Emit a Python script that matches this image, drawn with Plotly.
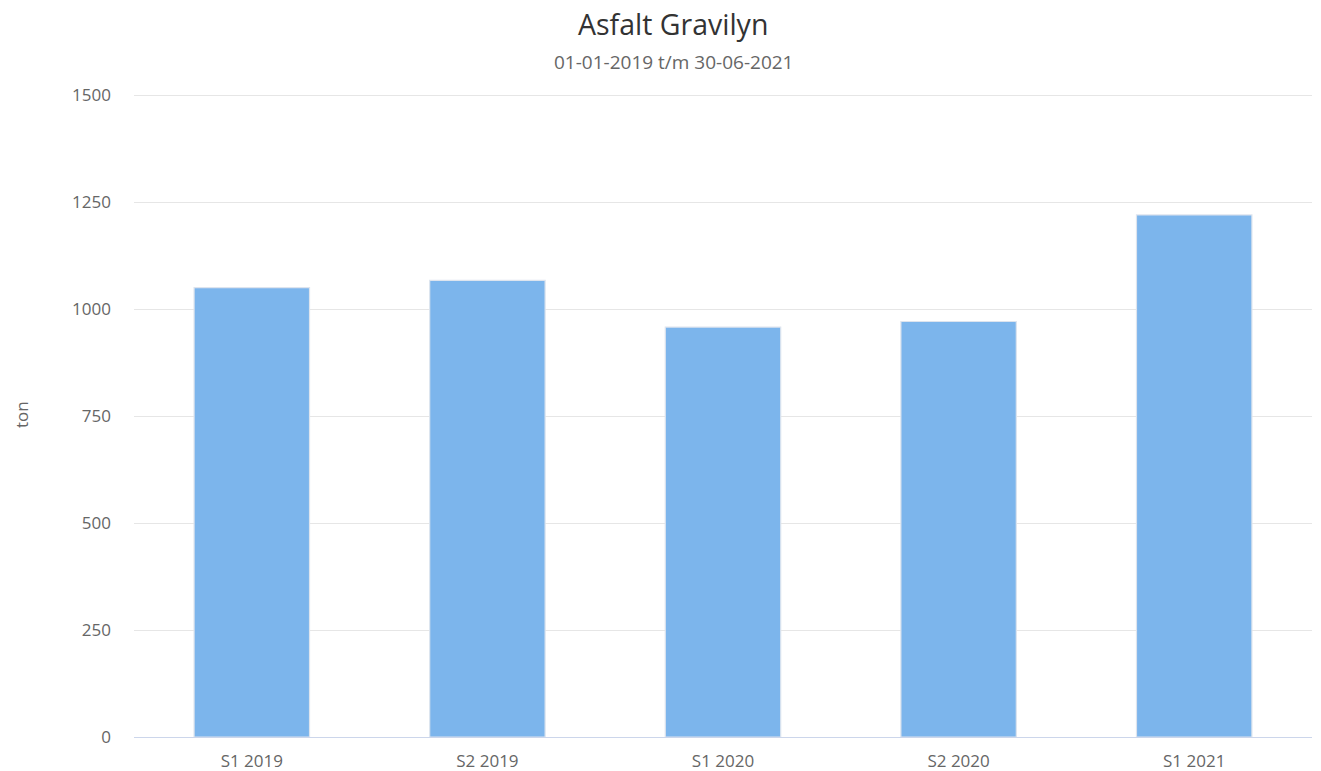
import plotly.graph_objects as go

categories = ["S1 2019", "S2 2019", "S1 2020", "S2 2020", "S1 2021"]
values = [1050, 1067, 958, 971, 1220]
y_ticks = [0, 250, 500, 750, 1000, 1250, 1500]

title_text = "Asfalt Gravilyn"
subtitle_text = "01-01-2019 t/m 30-06-2021"
y_title = "ton"

FONT = "Open Sans"

fig = go.Figure(
    go.Bar(
        x=categories,
        y=values,
        marker=dict(color="#7cb5ec", line=dict(color="#dde4ee", width=1.2)),
        hoverinfo="x+y",
    )
)

fig.update_layout(
    width=1321,
    height=771,
    margin=dict(l=134, r=9, t=93, b=34, autoexpand=False),
    paper_bgcolor="white",
    plot_bgcolor="white",
    bargap=0.51,
    showlegend=False,
    font=dict(family=FONT, color="#666666", size=17),
    annotations=[
        dict(text=title_text, xref="paper", yref="paper", x=0.4576, y=1,
             yshift=69, xanchor="center", yanchor="middle", showarrow=False,
             font=dict(family=FONT, size=28.5, color="#333333")),
        dict(text=subtitle_text, xref="paper", yref="paper", x=0.4576, y=1,
             yshift=31, xanchor="center", yanchor="middle", showarrow=False,
             font=dict(family=FONT, size=19, color="#666666")),
        dict(text=y_title, xref="paper", yref="paper", x=0, y=0.5,
             xshift=-113, xanchor="center", yanchor="middle", textangle=-90,
             showarrow=False, font=dict(family=FONT, size=17, color="#666666")),
    ],
)

fig.update_xaxes(
    showline=True, linecolor="#ccd6eb", linewidth=1, automargin=False,
    showgrid=False, ticks="", ticklabelstandoff=9,
    tickfont=dict(family=FONT, size=17, color="#666666"),
)
fig.update_yaxes(
    range=[0, 1505], tickvals=y_ticks, showgrid=True, gridcolor="#e6e6e6",
    gridwidth=1, zeroline=False, showline=False, ticks="", automargin=False,
    ticklabelstandoff=22,
    tickfont=dict(family=FONT, size=17, color="#666666"),
)

fig.write_html(
    "out.html",
    config={"displayModeBar": False},
    post_script="document.body.style.margin='0';",
)
